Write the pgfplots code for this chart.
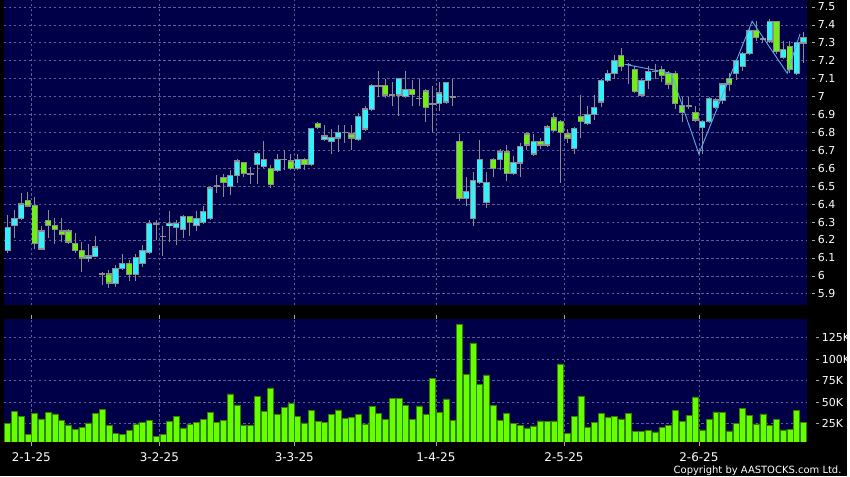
\documentclass[border=0pt]{standalone}
\usepackage{pgfplots}
\pgfplotsset{compat=1.18}
\usepackage{pgfplotstable}
\usepackage{fontspec}
\setmainfont{DejaVu Sans}

\definecolor{navy}{RGB}{0,0,72}
\definecolor{gridc}{RGB}{95,95,150}
\definecolor{upc}{RGB}{51,240,255}
\definecolor{dnc}{RGB}{110,240,20}
\definecolor{edge}{RGB}{140,140,140}
\definecolor{volc}{RGB}{102,255,0}
\definecolor{voledge}{RGB}{50,130,0}
\definecolor{zz}{RGB}{95,170,235}
\definecolor{tickc}{RGB}{170,170,170}

% tick label with the little dash in front
\newcommand{\tk}[1]{{\color{tickc}\rule[0.32em]{3.5pt}{0.8pt}}\hspace{2.5pt}#1}

% daily candles, i = trading day from 24 Dec 2024
\pgfplotstableread{
i o h l c
0 6.14 6.34 6.13 6.27
1 6.28 6.37 6.21 6.32
2 6.32 6.46 6.31 6.40
3 6.42 6.47 6.39 6.39
4 6.39 6.44 6.15 6.18
5 6.15 6.28 6.15 6.25
6 6.31 6.37 6.21 6.28
7 6.28 6.32 6.18 6.26
8 6.25 6.32 6.19 6.23
9 6.25 6.26 6.18 6.19
10 6.18 6.24 6.13 6.14
11 6.14 6.19 6.02 6.10
12 6.10 6.18 6.08 6.11
13 6.11 6.22 6.11 6.16
14 6.01 6.02 5.95 6.01
15 6.01 6.03 5.93 5.96
16 5.96 6.06 5.94 6.04
17 6.04 6.12 6.03 6.07
18 6.07 6.09 5.97 6.01
19 6.01 6.12 5.97 6.10
20 6.07 6.17 6.05 6.14
21 6.13 6.31 6.12 6.29
22 6.29 6.31 6.20 6.29
23 6.22 6.28 6.11 6.22
24 6.28 6.36 6.19 6.29
25 6.27 6.31 6.17 6.29
26 6.26 6.34 6.21 6.33
27 6.33 6.33 6.22 6.30
28 6.28 6.36 6.25 6.32
29 6.30 6.39 6.29 6.36
30 6.32 6.49 6.31 6.49
31 6.50 6.56 6.46 6.50
32 6.55 6.57 6.44 6.52
33 6.50 6.59 6.45 6.56
34 6.56 6.65 6.52 6.64
35 6.63 6.63 6.55 6.57
36 6.57 6.61 6.51 6.57
37 6.62 6.69 6.51 6.68
38 6.61 6.75 6.60 6.65
39 6.60 6.62 6.49 6.51
40 6.59 6.68 6.58 6.65
41 6.65 6.70 6.59 6.65
42 6.64 6.68 6.59 6.60
43 6.60 6.68 6.59 6.65
44 6.65 6.66 6.59 6.62
45 6.62 6.82 6.61 6.82
46 6.85 6.86 6.82 6.83
47 6.76 6.84 6.75 6.78
48 6.75 6.82 6.68 6.77
49 6.77 6.84 6.69 6.80
50 6.80 6.84 6.74 6.80
51 6.79 6.84 6.70 6.77
52 6.76 6.91 6.75 6.89
53 6.82 6.95 6.81 6.93
54 6.93 7.07 6.92 7.06
55 7.06 7.14 7.00 7.06
56 7.06 7.10 6.99 7.01
57 7.01 7.08 6.95 7.01
58 7.01 7.10 6.89 7.10
59 7.00 7.14 6.99 7.04
60 7.04 7.09 6.95 7.01
61 6.99 7.10 6.95 6.99
62 7.03 7.04 6.86 6.94
63 6.96 7.06 6.80 6.96
64 6.96 7.08 6.92 7.02
65 6.97 7.08 6.96 7.08
66 7.00 7.10 6.95 7.00
67 6.75 6.79 6.42 6.43
68 6.43 6.55 6.39 6.47
69 6.32 6.58 6.28 6.53
70 6.52 6.76 6.51 6.65
71 6.41 6.58 6.38 6.52
72 6.65 6.66 6.55 6.60
73 6.65 6.71 6.59 6.69
74 6.69 6.73 6.53 6.57
75 6.57 6.67 6.56 6.63
76 6.63 6.74 6.55 6.72
77 6.79 6.80 6.70 6.73
78 6.68 6.79 6.67 6.75
79 6.75 6.77 6.71 6.73
80 6.73 6.84 6.72 6.83
81 6.88 6.91 6.80 6.81
82 6.86 6.87 6.52 6.80
83 6.79 6.82 6.74 6.77
84 6.71 6.83 6.68 6.82
85 6.89 7.01 6.77 6.86
86 6.85 6.95 6.84 6.90
87 6.90 7.01 6.87 6.94
88 6.97 7.10 6.94 7.09
89 7.09 7.15 7.08 7.13
90 7.13 7.23 7.10 7.20
91 7.23 7.27 7.14 7.17
92 7.18 7.19 7.07 7.18
93 7.15 7.17 7.02 7.03
94 7.01 7.10 7.00 7.09
95 7.09 7.17 7.04 7.14
96 7.14 7.18 7.10 7.14
97 7.15 7.17 7.08 7.12
98 7.13 7.14 7.04 7.07
99 7.13 7.14 6.93 6.96
100 6.95 7.00 6.86 6.91
101 6.95 7.00 6.93 6.95
102 6.91 6.95 6.86 6.87
103 6.83 6.87 6.68 6.86
104 6.86 7.00 6.85 6.99
105 6.94 6.99 6.93 6.98
106 6.98 7.07 6.96 7.07
107 7.10 7.13 7.03 7.07
108 7.13 7.21 7.09 7.20
109 7.17 7.25 7.14 7.24
110 7.24 7.38 7.23 7.37
111 7.37 7.42 7.31 7.33
112 7.32 7.34 7.30 7.32
113 7.31 7.43 7.30 7.42
114 7.42 7.42 7.24 7.25
115 7.22 7.31 7.21 7.26
116 7.28 7.31 7.13 7.15
117 7.13 7.30 7.12 7.30
118 7.30 7.36 7.19 7.33
}\ohlc

% volume in thousands
\pgfplotstableread{
i v
0 25.0
1 39.2
2 33.5
3 12.7
4 37.3
5 30.4
6 38.1
7 36.2
8 28.5
9 23.5
10 18.1
11 20.8
12 25.8
13 37.3
14 41.9
15 23.1
16 13.9
17 12.7
18 17.3
19 24.6
20 26.2
21 28.5
22 10.4
23 12.3
24 27.7
25 33.8
26 20.0
27 24.3
28 26.9
29 30.0
30 38.5
31 26.2
32 28.5
33 59.6
34 46.9
35 23.5
36 22.7
37 56.9
38 39.2
39 66.5
40 35.4
41 44.2
42 48.1
43 33.1
44 25.8
45 40.0
46 27.7
47 26.2
48 35.8
49 41.1
50 31.5
51 32.3
52 35.8
53 24.6
54 45.0
55 36.9
56 30.0
57 54.6
58 54.2
59 46.5
60 30.0
61 45.7
62 35.4
63 77.6
64 37.7
65 53.8
66 28.5
67 140.6
68 82.2
69 118.7
70 70.3
71 81.5
72 46.5
73 28.9
74 36.5
75 25.0
76 22.7
77 20.0
78 22.3
79 28.1
80 27.7
81 28.1
82 94.5
83 13.9
84 33.8
85 56.9
86 20.4
87 26.9
88 37.3
89 32.7
90 33.1
91 30.4
92 37.3
93 15.8
94 16.2
95 17.3
96 15.4
97 20.8
98 23.1
99 40.8
100 27.3
101 34.6
102 56.1
103 17.7
104 30.0
105 38.8
106 38.1
107 16.6
108 25.0
109 43.1
110 35.0
111 24.6
112 36.2
113 22.7
114 29.6
115 17.7
116 18.5
117 40.0
118 26.2
}\vol

\pgfplotsset{panel/.style={
    scale only axis, width=806pt,
    xmin=-0.55, xmax=118.5,
    axis background/.style={fill=navy},
    axis line style={draw=none},
    grid=major,
    major grid style={draw=gridc, line width=0.6pt, dash pattern=on 2.5pt off 2.5pt},
    xtick={3.5,22.5,42.5,63.5,82.5,102.5},
    yticklabel pos=right,
    ytick style={draw=none},
    yticklabel style={anchor=west, inner sep=0pt, xshift=5pt, text=white},
  },
  candle/.style={draw=none, mark=none, error bars/.cd, y dir=both, y explicit, error mark=none},
}

\begin{document}
\begin{tikzpicture}
\fill[black] (0,0) rectangle (850pt,478pt);

% price panel
\begin{axis}[panel, at={(4pt,172pt)}, anchor=south west, height=306pt,
    ymin=5.837, ymax=7.537,
    ytick={5.9,6,6.1,6.2,6.3,6.4,6.5,6.6,6.7,6.8,6.9,7,7.1,7.2,7.3,7.4,7.5},
    yticklabels={\tk{5.9},\tk{6},\tk{6.1},\tk{6.2},\tk{6.3},\tk{6.4},\tk{6.5},\tk{6.6},\tk{6.7},\tk{6.8},\tk{6.9},\tk{7},\tk{7.1},\tk{7.2},\tk{7.3},\tk{7.4},\tk{7.5}},
    yticklabel style={font=\fontsize{11}{13}\selectfont},
    xticklabels={}, xtick style={draw=none}]

  % wicks
  \addplot[candle, error bar style={draw=edge, line width=0.9pt}]
    table[x=i, y expr={(\thisrow{h}+\thisrow{l})/2}, y error expr={(\thisrow{h}-\thisrow{l})/2}] {\ohlc};
  % body outline (dojis stay as a grey bar)
  \addplot[candle, error bar style={draw=edge, line width=6.3pt}]
    table[x=i, y expr={(\thisrow{o}+\thisrow{c})/2}, y error expr={abs(\thisrow{c}-\thisrow{o})/2+0.004}] {\ohlc};
  % up bodies
  \addplot[candle, error bar style={draw=upc, line width=4.9pt}]
    table[x=i, y expr={\thisrow{c}>\thisrow{o} ? (\thisrow{o}+\thisrow{c})/2 : nan},
      y error expr={max(abs(\thisrow{c}-\thisrow{o})/2-0.003,0)}] {\ohlc};
  % down bodies
  \addplot[candle, error bar style={draw=dnc, line width=4.9pt}]
    table[x=i, y expr={\thisrow{c}<\thisrow{o} ? (\thisrow{o}+\thisrow{c})/2 : nan},
      y error expr={max(abs(\thisrow{c}-\thisrow{o})/2-0.003,0)}] {\ohlc};

  % zigzag
  \addplot[zz, line width=0.9pt, mark=none] coordinates {
    (91.5,7.18) (98.4,7.13) (102.5,6.68) (110.4,7.42) (115.6,7.13) (117.5,7.35)};
\end{axis}

% volume panel
\begin{axis}[panel, at={(4pt,34.7pt)}, anchor=south west, height=123.6pt,
    ymin=3.9, ymax=146.8,
    ytick={25,50,75,100,125},
    yticklabels={\tk{25K},\tk{50K},\tk{75K},\tk{100K},\tk{125K}},
    yticklabel style={font=\fontsize{11}{13}\selectfont},
    xticklabels={2-1-25,3-2-25,3-3-25,1-4-25,2-5-25,2-6-25},
    tick align=outside, major tick length=4pt,
    xtick style={draw=tickc, line width=0.6pt},
    xticklabel style={font=\fontsize{12}{14}\selectfont, text=white, inner sep=0pt, yshift=-7pt}]
  \addplot[ybar, bar width=6pt, bar shift=0pt, fill=volc, draw=voledge, line width=0.5pt]
    table[x=i, y=v] {\vol};
\end{axis}

\node[anchor=base east, text=white, inner sep=0pt, font=\fontsize{10}{12}\selectfont]
  at (845pt,3pt) {Copyright by AASTOCKS.com Ltd.};
\end{tikzpicture}
\end{document}
